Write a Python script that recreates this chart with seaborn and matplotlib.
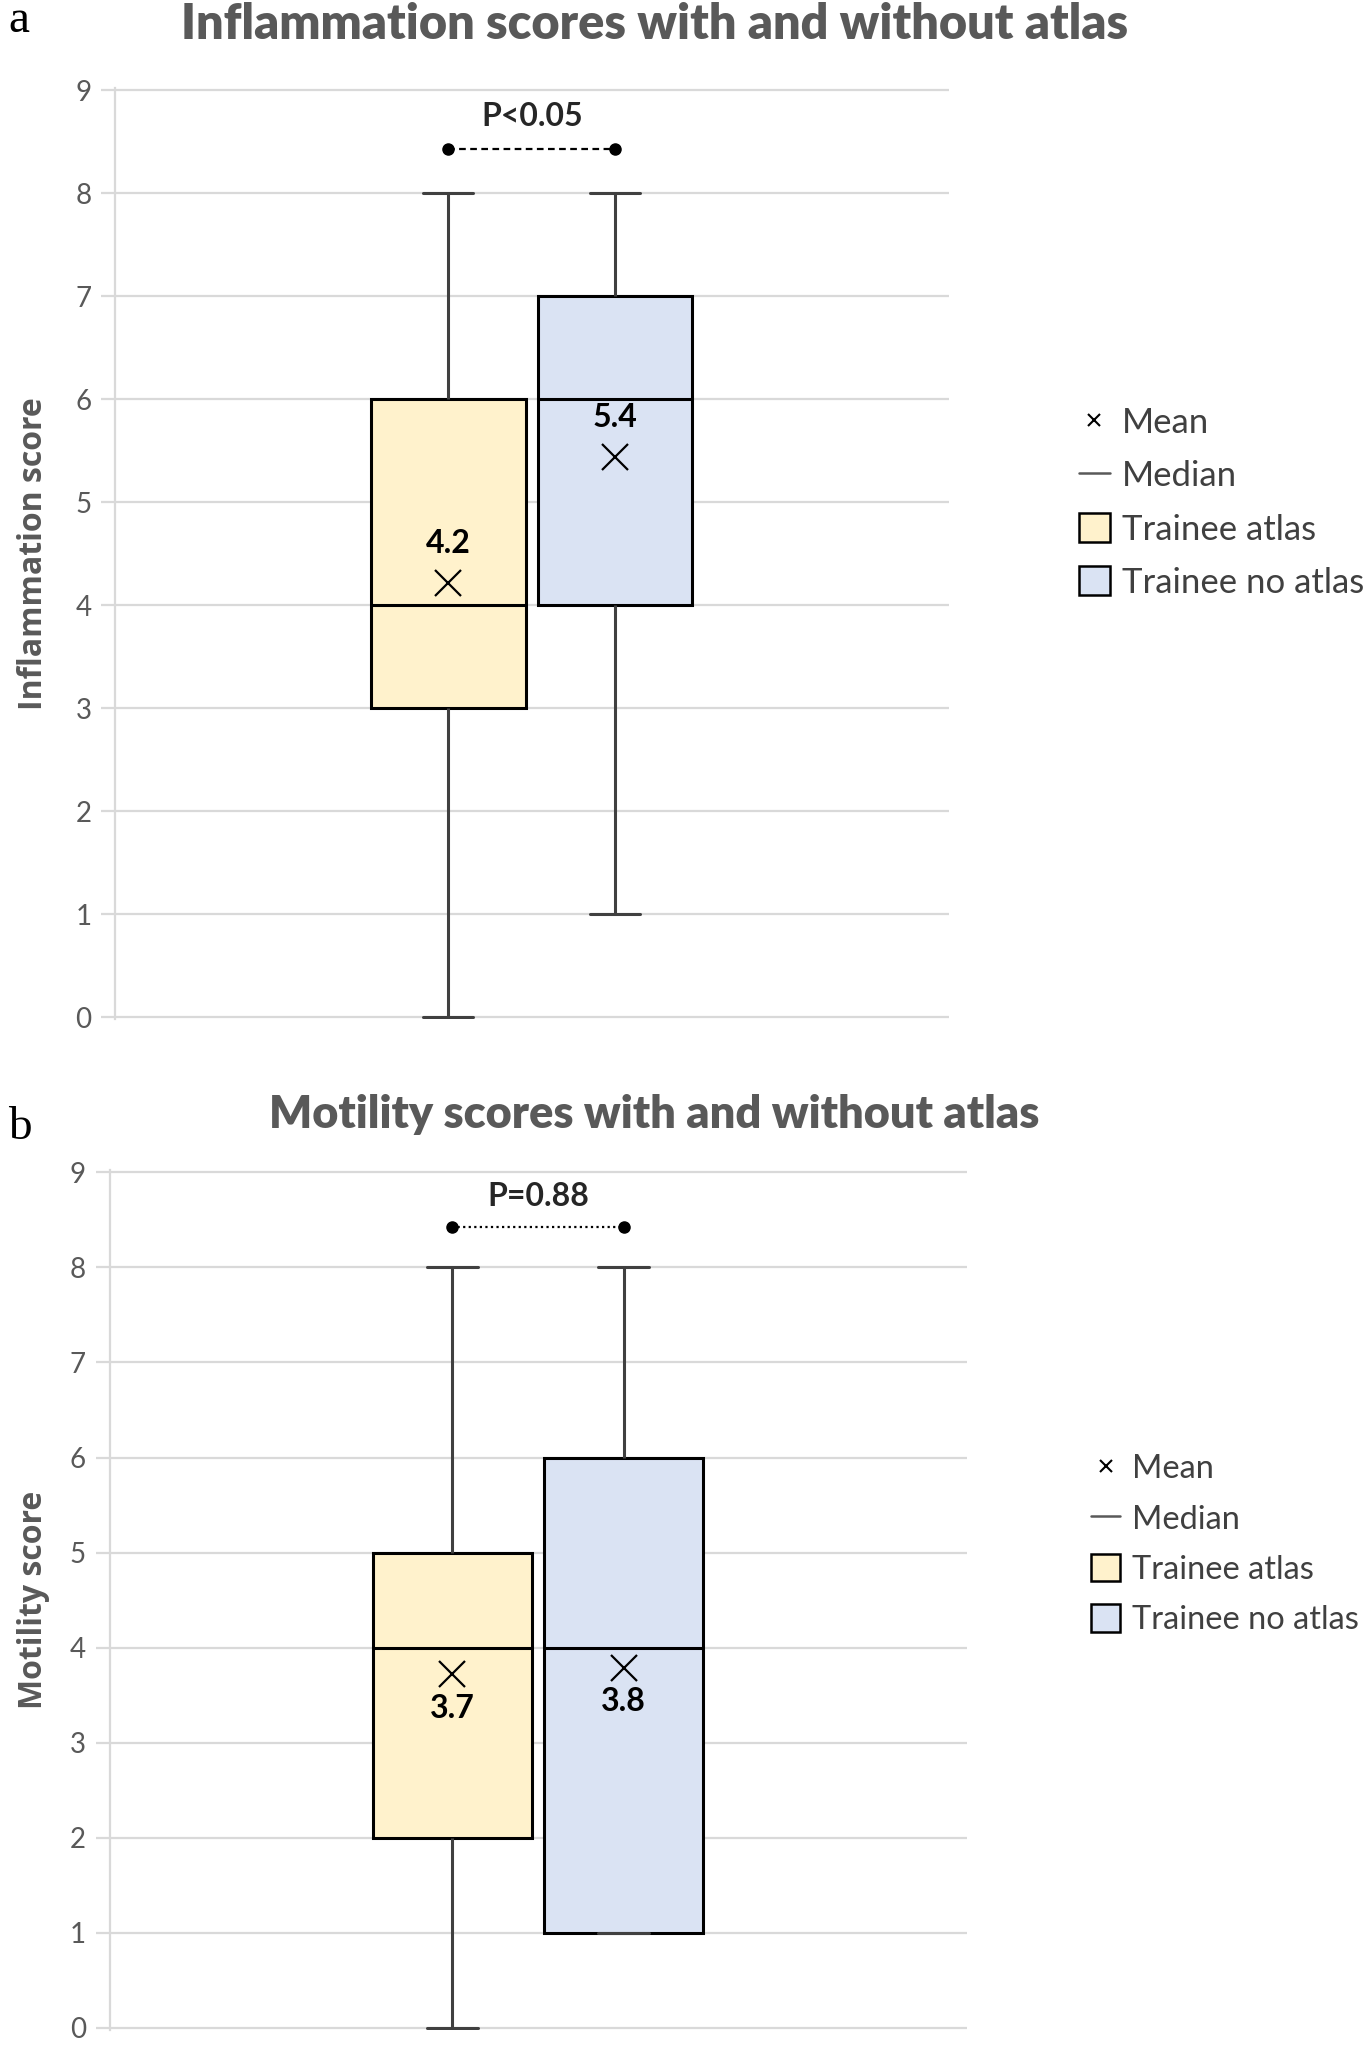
import numpy as np
import pandas as pd
import matplotlib
matplotlib.use("Agg")
import matplotlib.pyplot as plt
import seaborn as sns
from matplotlib.lines import Line2D
from matplotlib.patches import Patch

# ---------------------------
# DATA
# ---------------------------
groups = ["Trainee atlas", "Trainee no atlas"]
colors = ["#FFF2CC", "#DAE3F3"]

# five-number summaries per group: min, q1, median, q3, max
infl_atlas = [0, 3, 4, 6, 8]
infl_no_atlas = [1, 4, 6, 7, 8]
infl_means = [4.22, 5.44]
infl_p = "P<0.05"

mot_atlas = [0, 2, 4, 5, 8]
mot_no_atlas = [1, 1, 4, 6, 8]
mot_means = [3.72, 3.79]
mot_p = "P=0.88"

yticks = list(range(0, 10))

sns.set_style("white")
plt.rcParams["font.family"] = ["Lato", "DejaVu Sans"]

GRID = "#D9D9D9"
TXT = "#595959"
BOX_W = 0.4


def make_df(a, b):
    return pd.DataFrame({
        "x": [""] * (len(a) + len(b)),
        "group": [groups[0]] * len(a) + [groups[1]] * len(b),
        "score": a + b,
    })


def draw_panel(ax, df, means, ptext, ylabel, label_dy, pdash, ylab_x):
    sns.boxplot(data=df, x="x", y="score", hue="group", hue_order=groups,
                palette=colors, saturation=1, width=BOX_W, gap=0.075,
                whis=(0, 100), fliersize=0, legend=False, ax=ax,
                boxprops=dict(edgecolor="black", linewidth=2.2),
                medianprops=dict(color="black", linewidth=2.2),
                whiskerprops=dict(color="#404040", linewidth=2.2),
                capprops=dict(color="#404040", linewidth=2.2),
                capwidths=0.06)
    pos = np.array([-1, 1]) * BOX_W / 4
    ax.plot(pos, means, ls="none", marker="x", color="black",
            markersize=19, markeredgewidth=1.6, zorder=5)
    for x, m in zip(pos, means):
        ax.text(x, m + label_dy, f"{m:.1f}", ha="center", va="center",
                fontsize=23, fontweight="bold", color="black", zorder=6)

    # significance bracket
    ax.plot(pos, [8.43, 8.43], color="black", lw=1.6, dashes=pdash,
            marker="o", markersize=8, zorder=5)
    ax.text(0, 8.75, ptext, ha="center", va="center", fontsize=23,
            fontweight="bold", color="#262626")

    ax.set_ylim(-0.02, 9.02)
    ax.set_xlim(-0.5, 0.5)
    ax.set_yticks(yticks)
    ax.set_xticks([])
    ax.set_xlabel("")
    ax.set_ylabel(ylabel, fontsize=23, fontweight="bold", color=TXT,
                  family="Open Sans")
    ax.yaxis.set_label_coords(ylab_x, 0.5)
    ax.yaxis.grid(True, color=GRID, lw=1.6)
    ax.set_axisbelow(True)
    for s in ["top", "right", "bottom"]:
        ax.spines[s].set_visible(False)
    ax.spines["left"].set_color(GRID)
    ax.spines["left"].set_linewidth(1.6)
    ax.tick_params(axis="y", left=True, length=10, width=1.6, color=GRID,
                   pad=7, labelsize=20, labelcolor=TXT)


fig = plt.figure(figsize=(13.69, 20.69), dpi=100)
ax1 = fig.add_axes([0.084, 0.5073, 0.609, 0.45])
ax2 = fig.add_axes([0.080, 0.0189, 0.626, 0.4154])

draw_panel(ax1, make_df(infl_atlas, infl_no_atlas), infl_means, infl_p,
           "Inflammation score", 0.38, (3, 2), -0.078)
draw_panel(ax2, make_df(mot_atlas, mot_no_atlas), mot_means, mot_p,
           "Motility score", -0.36, (1, 1.5), -0.069)

fig.text(0.478, 0.988, "Inflammation scores with and without atlas",
         ha="center", va="center", fontsize=35, fontweight="heavy", color=TXT)
fig.text(0.478, 0.4615, "Motility scores with and without atlas",
         ha="center", va="center", fontsize=32.5, fontweight="heavy", color=TXT)
fig.text(0.006, 0.99, "a", ha="left", va="center", fontsize=34,
         family="Liberation Serif", color="black")
fig.text(0.006, 0.455, "b", ha="left", va="center", fontsize=34,
         family="Liberation Serif", color="black")

# legends
handles = [
    Line2D([], [], ls="none", marker="x", color="black", markersize=9,
           markeredgewidth=1.5),
    Line2D([], [], color=TXT, lw=1.8),
    Patch(facecolor=colors[0], edgecolor="black", linewidth=1.8),
    Patch(facecolor=colors[1], edgecolor="black", linewidth=1.8),
]
labels = ["Mean", "Median"] + groups
for anchor, fs in [((0.788, 0.757), 25), ((0.797, 0.2536), 23.5)]:
    fig.legend(handles, labels, loc="center left", bbox_to_anchor=anchor,
               frameon=False, fontsize=fs, labelcolor="#404040",
               handlelength=0.9, handleheight=0.9, handletextpad=0.35,
               labelspacing=0.6, borderpad=0, borderaxespad=0)

fig.savefig("out.png", dpi=100, facecolor="white")
